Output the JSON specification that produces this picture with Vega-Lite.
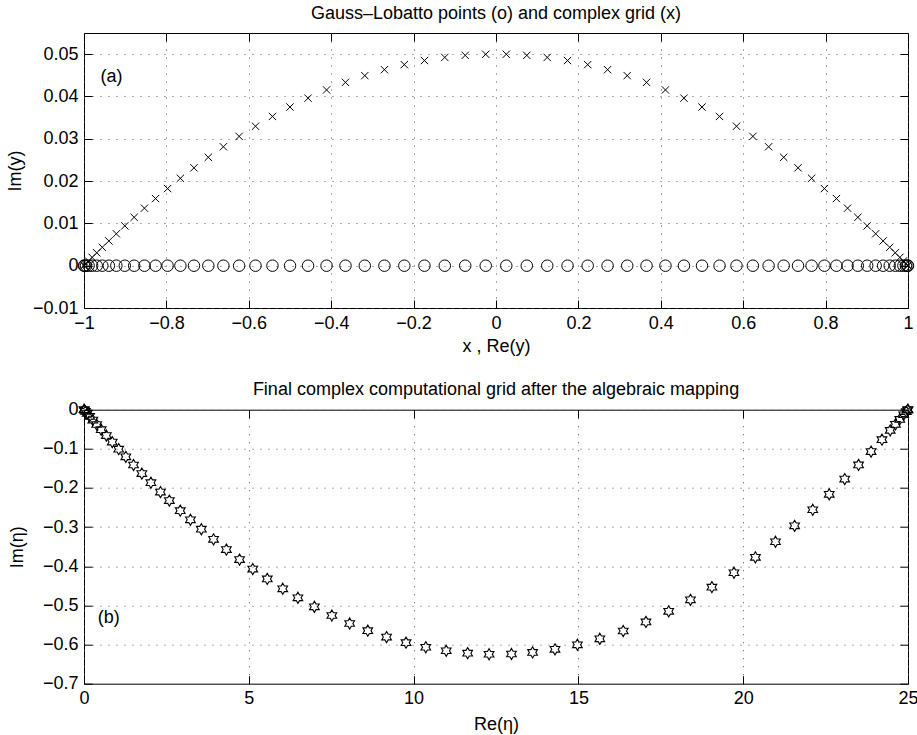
{
  "$schema": "https://vega.github.io/schema/vega-lite/v6.json",
  "background": "white",
  "padding": {"left": 5, "top": 4, "right": 8, "bottom": 5},
  "datasets": {
    "grid": [
      {"x": 1, "imy": 0}, {"x": 0.998757, "imy": 0.000124}, {"x": 0.995031, "imy": 0.000496}, {"x": 0.988831, "imy": 0.001111},
      {"x": 0.980172, "imy": 0.001963}, {"x": 0.969077, "imy": 0.003044}, {"x": 0.955573, "imy": 0.004344}, {"x": 0.939693, "imy": 0.005849},
      {"x": 0.921476, "imy": 0.007544}, {"x": 0.900969, "imy": 0.009413}, {"x": 0.878222, "imy": 0.011436}, {"x": 0.853291, "imy": 0.013595},
      {"x": 0.826239, "imy": 0.015866}, {"x": 0.797133, "imy": 0.018229}, {"x": 0.766044, "imy": 0.020659}, {"x": 0.733052, "imy": 0.023132},
      {"x": 0.698233, "imy": 0.025623}, {"x": 0.661682, "imy": 0.028109}, {"x": 0.62349, "imy": 0.030563}, {"x": 0.583743, "imy": 0.032962},
      {"x": 0.542546, "imy": 0.035282}, {"x": 0.5, "imy": 0.0375}, {"x": 0.456208, "imy": 0.039594}, {"x": 0.411286, "imy": 0.041542},
      {"x": 0.365339, "imy": 0.043326}, {"x": 0.318486, "imy": 0.044928}, {"x": 0.270839, "imy": 0.046332}, {"x": 0.222521, "imy": 0.047524},
      {"x": 0.173648, "imy": 0.048492}, {"x": 0.124344, "imy": 0.049227}, {"x": 0.07473, "imy": 0.049721}, {"x": 0.02493, "imy": 0.049969},
      {"x": -0.02493, "imy": 0.049969}, {"x": -0.07473, "imy": 0.049721}, {"x": -0.124344, "imy": 0.049227}, {"x": -0.173648, "imy": 0.048492},
      {"x": -0.222521, "imy": 0.047524}, {"x": -0.270839, "imy": 0.046332}, {"x": -0.318486, "imy": 0.044928}, {"x": -0.365339, "imy": 0.043326},
      {"x": -0.411286, "imy": 0.041542}, {"x": -0.456208, "imy": 0.039594}, {"x": -0.5, "imy": 0.0375}, {"x": -0.542546, "imy": 0.035282},
      {"x": -0.583743, "imy": 0.032962}, {"x": -0.62349, "imy": 0.030563}, {"x": -0.661682, "imy": 0.028109}, {"x": -0.698233, "imy": 0.025623},
      {"x": -0.733052, "imy": 0.023132}, {"x": -0.766044, "imy": 0.020659}, {"x": -0.797133, "imy": 0.018229}, {"x": -0.826239, "imy": 0.015866},
      {"x": -0.853291, "imy": 0.013595}, {"x": -0.878222, "imy": 0.011436}, {"x": -0.900969, "imy": 0.009413}, {"x": -0.921476, "imy": 0.007544},
      {"x": -0.939693, "imy": 0.005849}, {"x": -0.955573, "imy": 0.004344}, {"x": -0.969077, "imy": 0.003044}, {"x": -0.980172, "imy": 0.001963},
      {"x": -0.988831, "imy": 0.001111}, {"x": -0.995031, "imy": 0.000496}, {"x": -0.998757, "imy": 0.000124}, {"x": -1, "imy": 0}
    ],
    "mapped": [
      {"re": 0, "im": 0}, {"re": 0.011, "im": -0.0011}, {"re": 0.043, "im": -0.00429}, {"re": 0.097, "im": -0.00966},
      {"re": 0.171, "im": -0.01698}, {"re": 0.267, "im": -0.02641}, {"re": 0.384, "im": -0.03781}, {"re": 0.522, "im": -0.05111},
      {"re": 0.679, "im": -0.06606}, {"re": 0.857, "im": -0.08276}, {"re": 1.053, "im": -0.10086}, {"re": 1.269, "im": -0.12046},
      {"re": 1.503, "im": -0.14126}, {"re": 1.755, "im": -0.16318}, {"re": 2.03, "im": -0.18652}, {"re": 2.32, "im": -0.21047},
      {"re": 2.59, "im": -0.23217}, {"re": 2.92, "im": -0.25789}, {"re": 3.23, "im": -0.28127}, {"re": 3.56, "im": -0.30531},
      {"re": 3.93, "im": -0.33122}, {"re": 4.32, "im": -0.35735}, {"re": 4.72, "im": -0.38289}, {"re": 5.12, "im": -0.40714},
      {"re": 5.56, "im": -0.43235}, {"re": 6.03, "im": -0.45756}, {"re": 6.49, "im": -0.48052}, {"re": 6.99, "im": -0.50356},
      {"re": 7.52, "im": -0.5258}, {"re": 8.06, "im": -0.54615}, {"re": 8.61, "im": -0.56447}, {"re": 9.18, "im": -0.58091},
      {"re": 9.77, "im": -0.59519}, {"re": 10.37, "im": -0.60685}, {"re": 10.99, "im": -0.61588}, {"re": 11.64, "im": -0.62204},
      {"re": 12.29, "im": -0.62482}, {"re": 12.97, "im": -0.62412}, {"re": 13.61, "im": -0.62007}, {"re": 14.29, "im": -0.61222},
      {"re": 14.97, "im": -0.6006}, {"re": 15.65, "im": -0.58531}, {"re": 16.36, "im": -0.5654}, {"re": 17.05, "im": -0.54219},
      {"re": 17.74, "im": -0.51517}, {"re": 18.4, "im": -0.48576}, {"re": 19.05, "im": -0.45339}, {"re": 19.72, "im": -0.41649},
      {"re": 20.37, "im": -0.37725}, {"re": 20.98, "im": -0.33736}, {"re": 21.56, "im": -0.29667}, {"re": 22.11, "im": -0.25559},
      {"re": 22.61, "im": -0.21615}, {"re": 23.08, "im": -0.17725}, {"re": 23.5, "im": -0.141}, {"re": 23.88, "im": -0.10698},
      {"re": 24.21, "im": -0.0765}, {"re": 24.46, "im": -0.05283}, {"re": 24.62, "im": -0.03742}, {"re": 24.75, "im": -0.02475},
      {"re": 24.87, "im": -0.01293}, {"re": 24.95, "im": -0.00499}, {"re": 24.99, "im": -0.001}, {"re": 25, "im": 0}
    ]
  },
  "config": {
    "font": "Liberation Sans",
    "view": {"stroke": "black", "strokeWidth": 1},
    "axis": {
      "labelFont": "Liberation Sans", "labelFontSize": 18, "labelColor": "black",
      "titleFont": "Liberation Sans", "titleFontSize": 18, "titleFontWeight": "normal", "titleColor": "black",
      "gridColor": "#555", "gridDash": [1, 7], "gridWidth": 1, "gridOpacity": 1,
      "tickColor": "black", "tickWidth": 1, "tickSize": -8, "minExtent": 0,
      "domain": false, "labelFlush": false, "labelOverlap": false, "labelPadding": 14
    },
    "title": {"font": "Liberation Sans", "fontSize": 18, "fontWeight": "normal", "color": "black"}
  },
  "bounds": "flush",
  "spacing": 101.7,
  "vconcat": [
    {
      "width": 824, "height": 275,
      "title": {"text": "Gauss–Lobatto points (o) and complex grid (x)", "baseline": "alphabetic", "offset": -4},
      "data": {"name": "grid"},
      "layer": [
        {
          "mark": {"type": "point", "shape": "circle", "filled": false, "size": 132, "stroke": "black", "strokeWidth": 1, "opacity": 1, "clip": false},
          "encoding": {
            "x": {"field": "x", "type": "quantitative", "scale": {"domain": [-1, 1], "nice": false, "zero": false},
                  "axis": {"orient": "bottom", "values": [-1, -0.8, -0.6, -0.4, -0.2, 0, 0.2, 0.4, 0.6, 0.8, 1], "format": "~g", "title": "x , Re(y)", "titlePadding": 5, "grid": true}},
            "y": {"datum": 0, "type": "quantitative", "scale": {"domain": [-0.01, 0.055], "nice": false, "zero": false},
                  "axis": {"orient": "left", "values": [-0.01, 0, 0.01, 0.02, 0.03, 0.04, 0.05], "format": "~g", "title": "Im(y)", "titlePadding": 8, "grid": true}}
          }
        },
        {
          "mark": {"type": "point", "shape": "M-1,-1L1,1M-1,1L1,-1", "filled": false, "size": 54, "stroke": "black", "strokeWidth": 1, "opacity": 1},
          "encoding": {
            "x": {"field": "x", "type": "quantitative",
                  "axis": {"orient": "top", "values": [-1, -0.8, -0.6, -0.4, -0.2, 0, 0.2, 0.4, 0.6, 0.8, 1], "labels": false, "title": null, "grid": false}},
            "y": {"field": "imy", "type": "quantitative",
                  "axis": {"orient": "right", "values": [-0.01, 0, 0.01, 0.02, 0.03, 0.04, 0.05], "labels": false, "title": null, "grid": false}}
          }
        },
        {
          "data": {"values": [{}]},
          "mark": {"type": "text", "text": "(a)", "align": "left", "baseline": "middle", "fontSize": 18, "font": "Liberation Sans", "color": "black"},
          "encoding": {
            "x": {"datum": -0.96, "type": "quantitative", "axis": null},
            "y": {"datum": 0.0445, "type": "quantitative", "axis": null}
          }
        }
      ],
      "resolve": {"axis": {"x": "independent", "y": "independent"}}
    },
    {
      "width": 824, "height": 274,
      "title": {"text": "Final complex computational grid after the algebraic mapping", "baseline": "alphabetic", "offset": -12},
      "data": {"name": "mapped"},
      "layer": [
        {
          "mark": {"type": "point", "shape": "M0,-1L0.2887,-0.5L0.866,-0.5L0.5774,0L0.866,0.5L0.2887,0.5L0,1L-0.2887,0.5L-0.866,0.5L-0.5774,0L-0.866,-0.5L-0.2887,-0.5Z", "filled": false, "size": 125, "stroke": "black", "strokeWidth": 1.1, "opacity": 1, "clip": false},
          "encoding": {
            "x": {"field": "re", "type": "quantitative", "scale": {"domain": [0, 25], "nice": false, "zero": false},
                  "axis": {"orient": "bottom", "values": [0, 5, 10, 15, 20, 25], "format": "~g", "title": "Re(η)", "titlePadding": 8, "grid": true}},
            "y": {"field": "im", "type": "quantitative", "scale": {"domain": [-0.7, 0], "nice": false, "zero": false},
                  "axis": {"orient": "left", "values": [-0.7, -0.6, -0.5, -0.4, -0.3, -0.2, -0.1, 0], "format": "~g", "title": "Im(η)", "titlePadding": 16, "grid": true}}
          }
        },
        {
          "mark": {"type": "point", "shape": "M0,-1L0.2887,-0.5L0.866,-0.5L0.5774,0L0.866,0.5L0.2887,0.5L0,1L-0.2887,0.5L-0.866,0.5L-0.5774,0L-0.866,-0.5L-0.2887,-0.5Z", "filled": false, "size": 121, "strokeWidth": 0, "opacity": 0},
          "encoding": {
            "x": {"field": "re", "type": "quantitative",
                  "axis": {"orient": "top", "values": [0, 5, 10, 15, 20, 25], "labels": false, "title": null, "grid": false}},
            "y": {"field": "im", "type": "quantitative",
                  "axis": {"orient": "right", "values": [-0.7, -0.6, -0.5, -0.4, -0.3, -0.2, -0.1, 0], "labels": false, "title": null, "grid": false}}
          }
        },
        {
          "data": {"values": [{}]},
          "mark": {"type": "text", "text": "(b)", "align": "left", "baseline": "middle", "fontSize": 18, "font": "Liberation Sans", "color": "black"},
          "encoding": {
            "x": {"datum": 0.42, "type": "quantitative", "axis": null},
            "y": {"datum": -0.533, "type": "quantitative", "axis": null}
          }
        }
      ],
      "resolve": {"axis": {"x": "independent", "y": "independent"}}
    }
  ]
}
